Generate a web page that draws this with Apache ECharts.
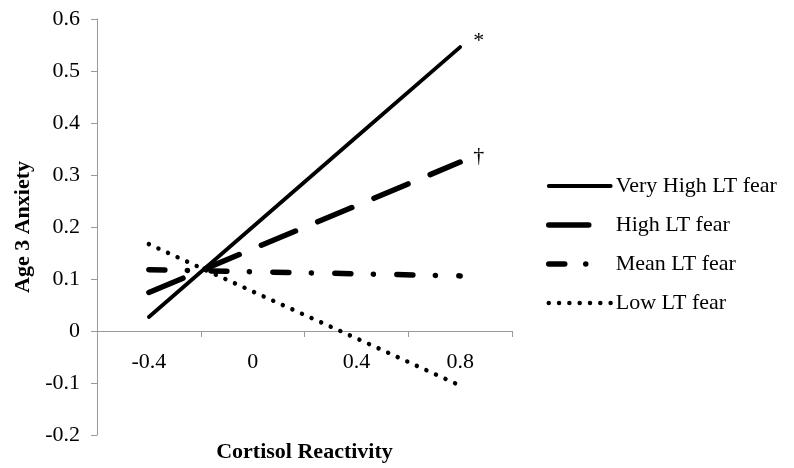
<!DOCTYPE html>
<html>
<head>
<meta charset="utf-8">
<script src="https://cdn.jsdelivr.net/npm/echarts@6/dist/echarts.min.js"></script>
<style>html,body{margin:0;padding:0;background:#fff}#c{width:794px;height:468px}</style>
</head>
<body>
<div id="c"></div>
<script>
const categories = ['-0.4', '0', '0.4', '0.8'];
const seriesNames = ['Very High LT fear', 'High LT fear', 'Mean LT fear', 'Low LT fear'];
const veryHigh = [0.027, 0.200, 0.373, 0.546];
const high = [0.074, 0.158, 0.241, 0.325];
const mean = [0.118, 0.114, 0.110, 0.106];
const low = [0.167, 0.076, -0.014, -0.105];
const endMarks = ['*', '\u2020', '', ''];
const yMin = -0.2, yMax = 0.6, yStep = 0.1;

const FONT = 'Liberation Serif';
const FS = 22;
const chart = echarts.init(document.getElementById('c'), null, {renderer: 'canvas'});

const styles = [
  {width: 3.8, type: 'solid', cap: 'round'},
  {width: 5.5, type: [37, 24], cap: 'round'},
  {width: 5.5, type: [16, 22.5, 0.01, 23.5], cap: 'round'},
  {width: 4.5, type: [0.01, 10.5], cap: 'round'}
];
const legendDash = ['solid', [40, 60], [16, 21, 0.01, 60], [0.01, 10.3]];
const values = [veryHigh, high, mean, low];

chart.setOption({
  animation: false,
  backgroundColor: '#fff',
  grid: {left: 97, right: 282, top: 19, bottom: 33, containLabel: false, outerBoundsMode: 'none'},
  legend: {
    orient: 'vertical',
    left: 541,
    top: 170,
    itemWidth: 62,
    itemHeight: 14,
    itemGap: 17,
    itemStyle: {color: 'rgba(0,0,0,0)', borderColor: 'rgba(0,0,0,0)', borderWidth: 0},
    textStyle: {fontFamily: FONT, fontSize: FS, lineHeight: 22, color: '#000'},
    data: seriesNames.map((n, i) => ({
      name: n,
      lineStyle: {type: legendDash[i], width: styles[i].width, cap: 'round', color: '#000'}
    }))
  },
  xAxis: {
    type: 'category',
    data: categories,
    boundaryGap: true,
    name: 'Cortisol Reactivity',
    nameLocation: 'middle',
    nameGap: 6,
    nameTextStyle: {fontFamily: FONT, fontSize: FS, fontWeight: 'bold', color: '#000'},
    axisLine: {onZero: true, lineStyle: {color: '#9a9a9a', width: 1}},
    axisTick: {show: true, length: 6, lineStyle: {color: '#9a9a9a'}},
    axisLabel: {margin: -84, fontFamily: FONT, fontSize: FS, color: '#000'},
    splitLine: {show: false}
  },
  yAxis: {
    type: 'value',
    min: yMin,
    max: yMax,
    interval: yStep,
    name: 'Age 3 Anxiety',
    nameLocation: 'middle',
    nameGap: 62,
    nameTextStyle: {fontFamily: FONT, fontSize: FS, fontWeight: 'bold', color: '#000'},
    axisLine: {show: true, lineStyle: {color: '#9a9a9a', width: 1}},
    axisTick: {show: true, length: 6, lineStyle: {color: '#9a9a9a'}},
    axisLabel: {margin: 17, fontFamily: FONT, fontSize: FS, color: '#000',
      formatter: v => String(+(+v).toFixed(1))},
    splitLine: {show: false}
  },
  series: seriesNames.map((n, i) => ({
    name: n,
    type: 'line',
    data: values[i],
    symbol: 'none',
    showSymbol: false,
    silent: true,
    color: '#000',
    lineStyle: {color: '#000', width: styles[i].width, type: styles[i].type, cap: styles[i].cap},
    endLabel: {
      show: !!endMarks[i],
      formatter: endMarks[i],
      distance: 8,
      offset: [5, -6],
      fontFamily: FONT,
      fontSize: FS,
      color: '#000'
    }
  }))
});
</script>
</body>
</html>
